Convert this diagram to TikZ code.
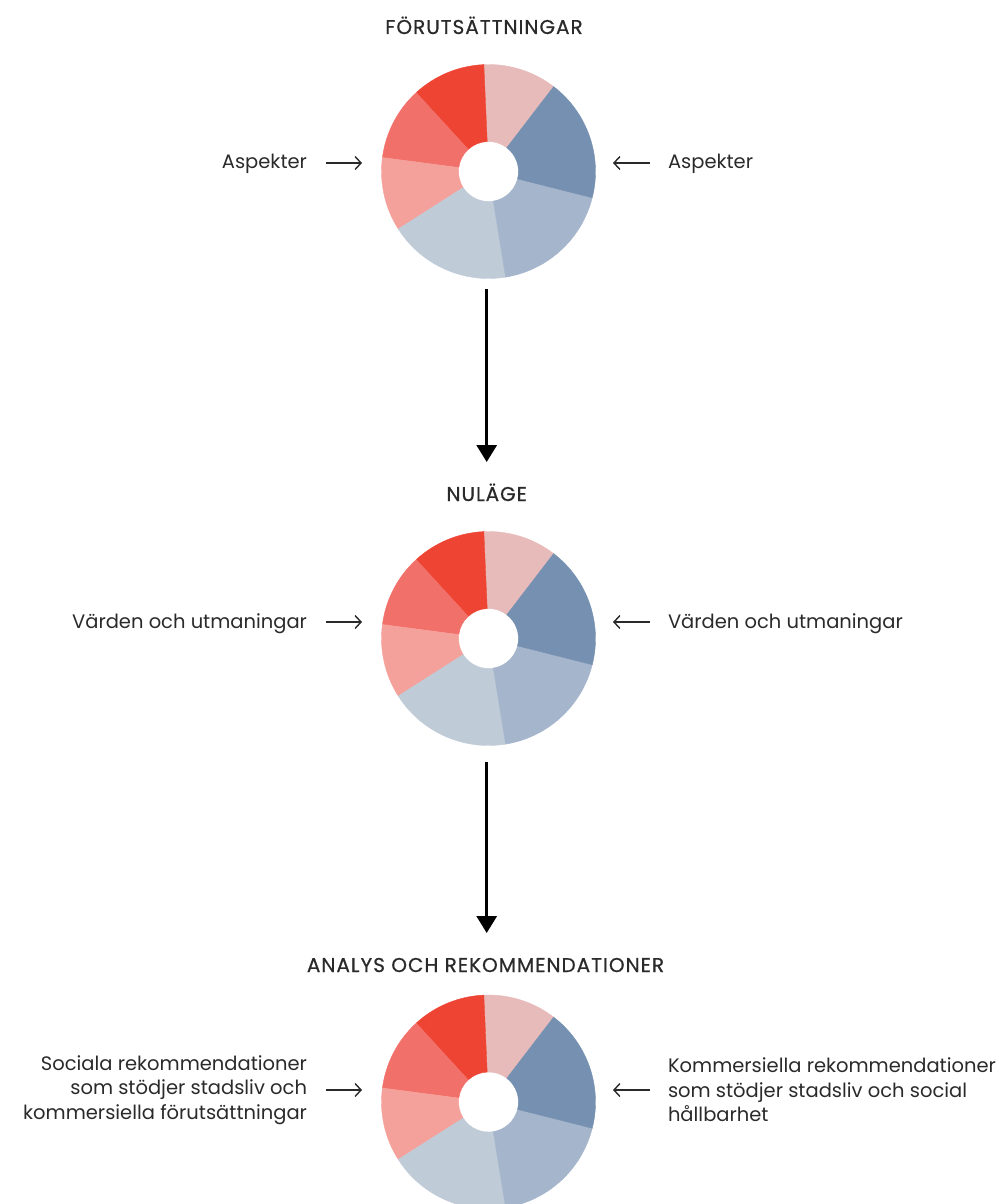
\documentclass[tikz,border=0pt]{standalone}
\usepackage{fontspec}
\setmainfont{Poppins}
\newfontfamily\ttlfont{Poppins}[LetterSpace=5, FakeBold=0.6]
\usetikzlibrary{arrows.meta}
\definecolor{txt}{HTML}{2A2A2A}
\definecolor{cpink}{HTML}{E8BBBB}
\definecolor{cred}{HTML}{EE4433}
\definecolor{csalmon}{HTML}{F2706A}
\definecolor{clsalmon}{HTML}{F5A19B}
\definecolor{clblue}{HTML}{C0CBD8}
\definecolor{cmblue}{HTML}{A5B5CC}
\definecolor{cdblue}{HTML}{7590B0}
\newcommand\mydonut[3]{%
  \node[circle, minimum size=214pt, inner sep=0pt, outer sep=0pt] (#1) at (#2,#3) {};
  \begin{scope}[shift={(#2,#3)}]
    \foreach \a/\b/\c in {52.5/92.5/cpink, 92.5/132.5/cred, 132.5/172.5/csalmon,
        172.5/212.5/clsalmon, 212.5/279.2/clblue, 279.2/345.8/cmblue, 345.8/412.5/cdblue}{
      \filldraw[fill=\c, draw=\c, line width=0.4pt] (\a:107) arc[start angle=\a, end angle=\b, radius=107]
        -- (\b:30) arc[start angle=\b, end angle=\a, radius=30] -- cycle;
    }
  \end{scope}%
}
\begin{document}
\begin{tikzpicture}[x=1pt, y=1pt,
  lbl/.style={inner sep=0pt, outer sep=0pt, text=txt, font=\fontsize{19.5}{24.5}\selectfont},
  ttl/.style={inner sep=0pt, outer sep=0pt, text=txt, font=\ttlfont\fontsize{20}{22}\selectfont},
  bigarrow/.style={line width=3.2pt, draw=black, -{Triangle[width=20pt, length=17pt]}},
  sidearrow/.style={line width=1.4pt, draw=txt, -{Straight Barb[length=6pt, width=13pt]}}]
\clip (0,0) rectangle (1005,-1204);

% titles
\node[ttl, anchor=base] (t1) at (484,-34) {FÖRUTSÄTTNINGAR};
\node[ttl, anchor=base] (t2) at (486.7,-501) {NULÄGE};
\node[ttl, anchor=base] (t3) at (485.5,-972) {ANALYS OCH REKOMMENDATIONER};

% donuts
\mydonut{d1}{488.5}{-171.5}
\mydonut{d2}{488.5}{-638.5}
\mydonut{d3}{488.5}{-1102}

% vertical arrows
\draw[bigarrow, shorten <=10.5pt] (t2 |- d1.south) -- ([yshift=39pt]t2.base);
\draw[bigarrow, shorten <=16.5pt] (t2 |- d2.south) -- ([yshift=39pt]t2.base |- t3.base);

% side labels
\node[lbl, anchor=base east] (l1) at (307,-168) {Aspekter};
\node[lbl, anchor=base west] (r1) at (668,-168) {Aspekter};
\node[lbl, anchor=base east] (l2) at (307,-628) {Värden och utmaningar};
\node[lbl, anchor=base west] (r2) at (668,-628) {Värden och utmaningar};
\node[lbl, anchor=east, align=right] (l3) at (307,-1090) {Sociala rekommendationer\\som stödjer stadsliv och\\kommersiella förutsättningar};
\node[lbl, anchor=west, align=left] (r3) at (668,-1090) {Kommersiella rekommendationer\\som stödjer stadsliv och social\\hållbarhet};

\coordinate (al1) at (326,-163); \coordinate (bl1) at (362,-163);
\coordinate (ar1) at (650,-163); \coordinate (br1) at (613,-163);
\coordinate (al2) at (326,-622); \coordinate (bl2) at (362,-622);
\coordinate (ar2) at (650,-622); \coordinate (br2) at (613,-622);
\coordinate (al3) at (326,-1090); \coordinate (bl3) at (362,-1090);
\coordinate (ar3) at (650,-1090); \coordinate (br3) at (613,-1090);
\draw[sidearrow] (al1) -- (bl1);
\draw[sidearrow] (ar1) -- (br1);
\draw[sidearrow] (al2) -- (bl2);
\draw[sidearrow] (ar2) -- (br2);
\draw[sidearrow] (al3) -- (bl3);
\draw[sidearrow] (ar3) -- (br3);
\end{tikzpicture}
\end{document}
